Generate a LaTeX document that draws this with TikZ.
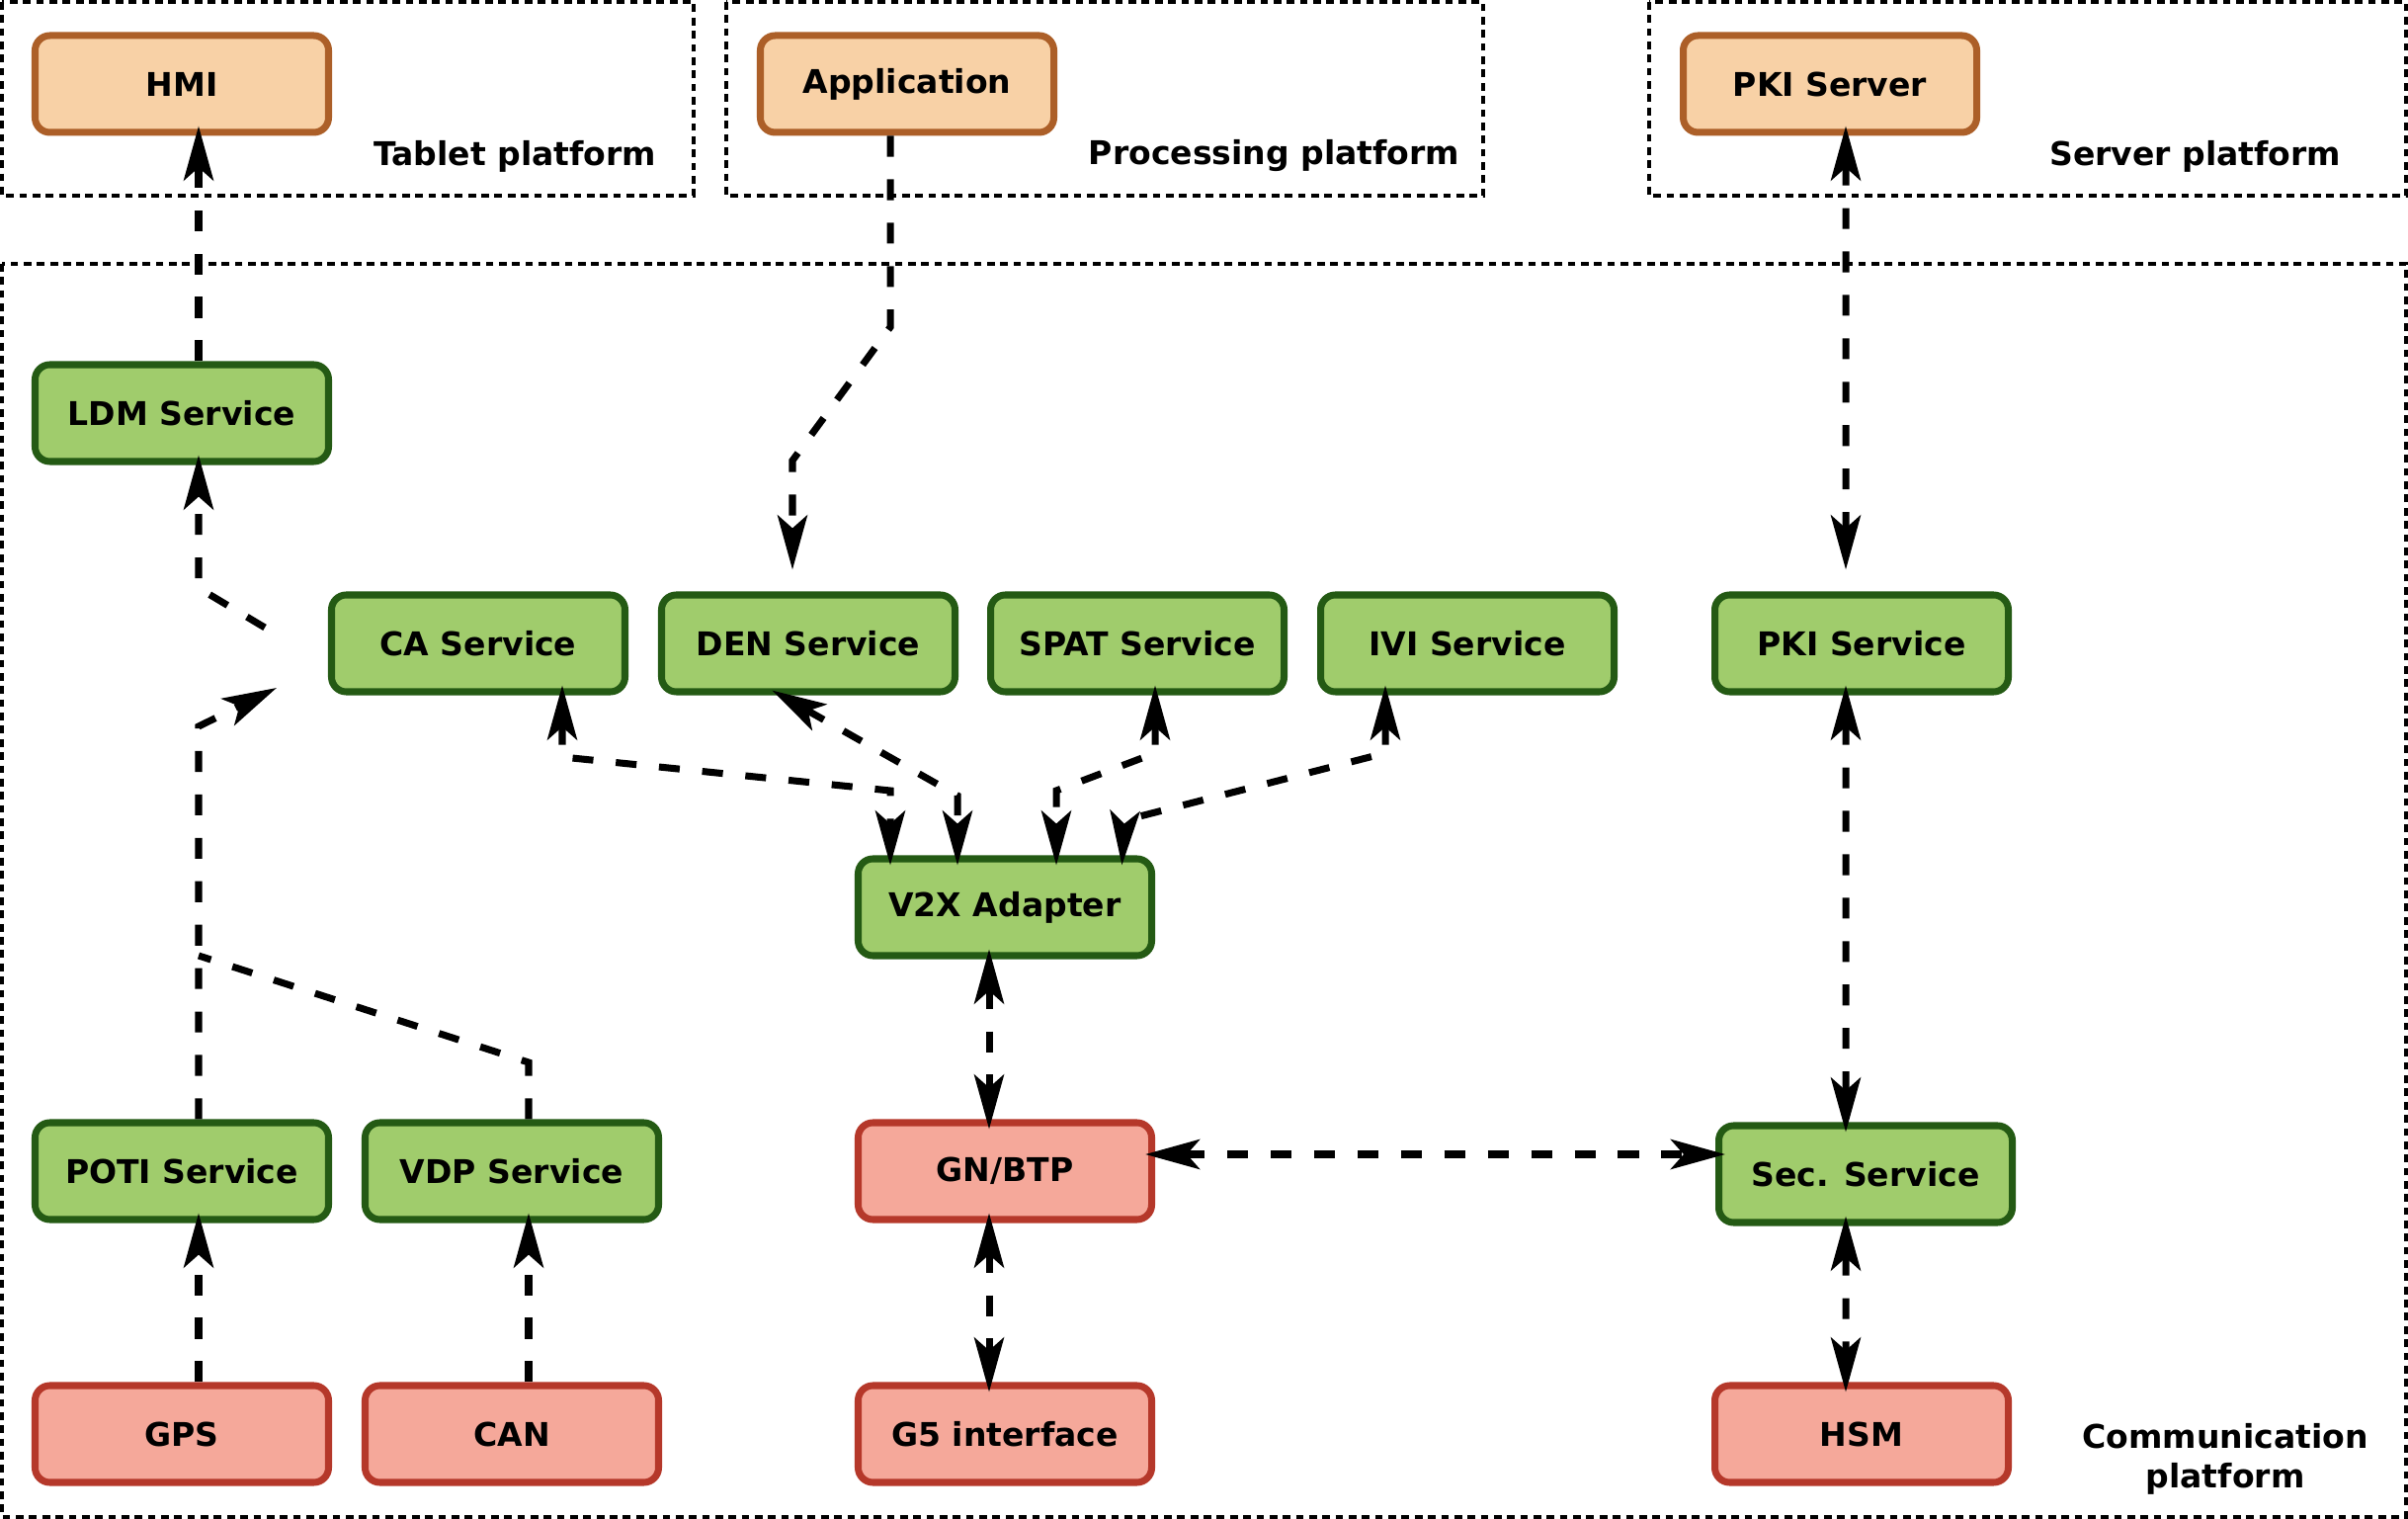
\documentclass[tikz,border=0pt]{standalone}
\usepackage{fontspec}
\setmainfont{DejaVu Sans}
\usetikzlibrary{arrows.meta}
\usetikzlibrary{calc}
\definecolor{topfill}{HTML}{F8D1A6}
\definecolor{topdraw}{HTML}{AC5F28}
\definecolor{srvfill}{HTML}{A0CC6C}
\definecolor{srvdraw}{HTML}{245A14}
\definecolor{hwfill}{HTML}{F5A89A}
\definecolor{hwdraw}{HTML}{B5382A}
\tikzset{
	boxstyle/.style={rectangle, rounded corners=0.15cm, line width=2pt,
		minimum width=2.97cm, minimum height=0.98cm, inner sep=0pt,
		font=\bfseries\fontsize{9.4}{11}\selectfont},
	topstyle/.style={boxstyle, draw=topdraw, fill=topfill},
	srvstyle/.style={boxstyle, draw=srvdraw, fill=srvfill},
	hwstyle/.style={boxstyle, draw=hwdraw, fill=hwfill},
	platformstyle/.style={draw=black, line width=0.9pt, dash pattern=on 2.2pt off 1.6pt},
	labelstyle/.style={inner sep=0pt, font=\bfseries\fontsize{9.4}{11.4}\selectfont},
	linkstyle/.style={draw=black, line width=2pt, dash pattern=on 6pt off 6.5pt,
		>={Stealth[length=0.55cm, width=0.3cm, inset=0.13cm]}},
	tipin/.style={shorten >=-0.1cm},
	tipsin/.style={shorten >=-0.1cm, shorten <=-0.1cm}
}

\begin{document}
\begin{tikzpicture}
	\useasboundingbox (0,0) rectangle (24.37,-15.37);
	% platforms
	\draw[platformstyle] (0.02,-0.02) rectangle (7.02,-1.98);
	\draw[platformstyle] (7.35,-0.02) rectangle (15.01,-1.98);
	\draw[platformstyle] (16.69,-0.02) rectangle (24.35,-1.98);
	\draw[platformstyle] (0.02,-2.67) rectangle (24.35,-15.35);
	\node[labelstyle, anchor=east] (tabletlbl) at (6.65,-1.58) {Tablet platform};
	\node[labelstyle, anchor=east] (proclbl) at (14.78,-1.58) {Processing platform};
	\node[labelstyle, anchor=east] (serverlbl) at (23.70,-1.58) {Server platform};
	\node[labelstyle, align=center] (commlbl) at (22.52,-14.76) {Communication\\platform};

	\node[topstyle] (hmi) at (1.84,-0.85) {HMI};
	\node[topstyle] (app) at (9.18,-0.85) {Application};
	\node[topstyle] (pkisrv) at (18.52,-0.85) {PKI Server};

	\node[srvstyle] (ldm) at (1.84,-4.18) {LDM Service};
	\node[srvstyle] (ca) at (4.84,-6.51) {CA Service};
	\node[srvstyle] (den) at (8.18,-6.51) {DEN Service};
	\node[srvstyle] (spat) at (11.51,-6.51) {SPAT Service};
	\node[srvstyle] (ivi) at (14.85,-6.51) {IVI Service};
	\node[srvstyle] (pki) at (18.84,-6.51) {PKI Service};
	\node[srvstyle] (v2x) at (10.17,-9.18) {V2X Adapter};
	\node[srvstyle] (poti) at (1.84,-11.85) {POTI Service};
	\node[srvstyle] (vdp) at (5.18,-11.85) {VDP Service};
	\node[srvstyle] (sec) at (18.88,-11.88) {Sec. Service};

	\node[hwstyle] (gnbtp) at (10.17,-11.85) {GN/BTP};
	\node[hwstyle] (gps) at (1.84,-14.51) {GPS};
	\node[hwstyle] (can) at (5.18,-14.51) {CAN};
	\node[hwstyle] (gfive) at (10.17,-14.51) {G5 interface};
	\node[hwstyle] (hsm) at (18.84,-14.51) {HSM};

	\coordinate (hubin) at (2.80,-6.96);
	\coordinate (hubout) at (2.68,-6.35);

	\draw[linkstyle,->,tipin] ([xshift=0.17cm]ldm.north) -- ([xshift=0.17cm]hmi.south);
	\draw[linkstyle,->,shorten >=0.22cm] ([xshift=-0.17cm]app.south) -- (9.01,-3.31) -- (8.02,-4.66) -- ([xshift=-0.16cm]den.north);
	\draw[linkstyle,<->,shorten <=-0.1cm,shorten >=0.22cm] ([xshift=0.16cm]pkisrv.south) -- ([xshift=-0.16cm]pki.north);

	\draw[linkstyle,<->,tipsin] ([xshift=0.85cm]ca.south) -- (5.69,-7.66) -- (9.01,-8.00) -- ([xshift=-1.16cm]v2x.north);
	\draw[linkstyle,<->,tipsin] ([xshift=-0.28cm]den.south) -- (9.69,-8.05) -- ([xshift=-0.48cm]v2x.north);
	\draw[linkstyle,<->,tipsin] ([xshift=0.18cm]spat.south) -- (11.69,-7.62) -- (10.69,-8.00) -- ([xshift=0.52cm]v2x.north);
	\draw[linkstyle,<->,tipsin] ([xshift=-0.83cm]ivi.south) -- (14.02,-7.62) -- (11.38,-8.30) -- ([xshift=1.19cm]v2x.north);

	\draw[linkstyle,<->,tipsin] ([xshift=-0.16cm]v2x.south) -- ([xshift=-0.16cm]gnbtp.north);
	\draw[linkstyle,<->,tipsin] ([xshift=-0.16cm]gnbtp.south) -- ([xshift=-0.16cm]gfive.north);
	\draw[linkstyle,<->,tipsin] ([yshift=0.17cm]gnbtp.east) -- ([yshift=0.20cm]sec.west);
	\draw[linkstyle,<->,tipsin] ([xshift=-0.16cm]pki.south) -- ([xshift=-0.20cm]sec.north);
	\draw[linkstyle,<->,tipsin] ([xshift=-0.20cm]sec.south) -- ([xshift=-0.16cm]hsm.north);

	\draw[linkstyle,->,tipin] ([xshift=0.17cm]gps.north) -- ([xshift=0.17cm]poti.south);
	\draw[linkstyle,->,tipin] ([xshift=0.17cm]can.north) -- ([xshift=0.17cm]vdp.south);
	\draw[linkstyle,->] ([xshift=0.17cm]poti.north) -- (2.01,-7.35) -- (hubin);
	\draw[linkstyle] ([xshift=0.17cm]vdp.north) -- (5.35,-10.75) -- (2.01,-9.67);
	\draw[linkstyle,->,tipin] (hubout) -- (2.01,-5.95) -- ([xshift=0.17cm]ldm.south);
\end{tikzpicture}
\end{document}
